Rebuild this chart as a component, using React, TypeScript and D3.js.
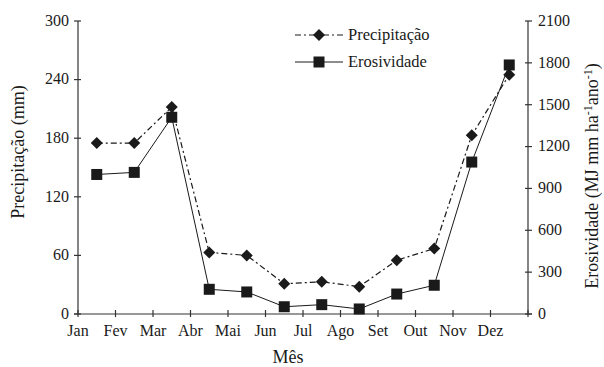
import * as d3 from "d3";

const months = ["Jan", "Fev", "Mar", "Abr", "Mai", "Jun", "Jul", "Ago", "Set", "Out", "Nov", "Dez"];
const precipitacao = [175, 175, 212, 63, 60, 31, 33, 28, 55, 67, 183, 245];
const erosividade = [1000, 1015, 1410, 177, 158, 52, 67, 36, 143, 206, 1089, 1785];
const leftTicks = [0, 60, 120, 180, 240, 300];
const rightTicks = [0, 300, 600, 900, 1200, 1500, 1800, 2100];

const W = 604;
const H = 367;
const m = { left: 78, right: 76, top: 21, bottom: 53 };
const serif = { fontFamily: "Liberation Serif" };
const ink = "#1a1a1a";

export default function App() {
  const x = d3.scaleLinear().domain([0, 12]).range([m.left, W - m.right]);
  const yL = d3.scaleLinear().domain([0, 300]).range([H - m.bottom, m.top]);
  const yR = d3.scaleLinear().domain([0, 2100]).range([H - m.bottom, m.top]);
  const y0 = H - m.bottom;

  const lineP = d3.line<number>().x((_, i) => x(i + 0.5)).y(d => yL(d));
  const lineE = d3.line<number>().x((_, i) => x(i + 0.5)).y(d => yR(d));

  // quadrado girado (losango)
  const diamond = "M0,-6L6,0L0,6L-6,0Z";
  const sq = 11;

  return (
    <svg width={W} height={H} style={{ position: "absolute", left: 0, top: 0, ...serif }}>
      <rect width={W} height={H} fill="#fff" />
      {/* eixos */}
      <g stroke="#333" strokeWidth={1.2}>
        <line x1={m.left} x2={m.left} y1={m.top} y2={y0} />
        <line x1={W - m.right} x2={W - m.right} y1={m.top} y2={y0} />
        <line x1={m.left - 4} x2={W - m.right + 4} y1={y0} y2={y0} />
        {leftTicks.map(t => (
          <line key={"l" + t} x1={m.left - 4} x2={m.left + 3} y1={yL(t)} y2={yL(t)} />
        ))}
        {rightTicks.map(t => (
          <line key={"r" + t} x1={W - m.right - 3} x2={W - m.right + 4} y1={yR(t)} y2={yR(t)} />
        ))}
        {d3.range(13).map(i => (
          <line key={"x" + i} x1={x(i)} x2={x(i)} y1={y0 - 4} y2={y0 + 3} />
        ))}
      </g>
      <g fontSize={16} fill={ink} style={serif}>
        {leftTicks.map(t => (
          <text key={t} x={m.left - 9} y={yL(t)} dy="0.3em" textAnchor="end" style={serif}>{t}</text>
        ))}
        {rightTicks.map(t => (
          <text key={t} x={W - m.right + 10} y={yR(t)} dy="0.3em" textAnchor="start" style={serif}>{t}</text>
        ))}
        {months.map((mo, i) => (
          <text key={mo} x={x(i)} y={y0 + 22} textAnchor="middle" style={serif}>{mo}</text>
        ))}
        <text x={288} y={H - 4} fontSize={18} textAnchor="middle" style={serif}>Mês</text>
        <text transform="translate(24,152) rotate(-90)" fontSize={18} textAnchor="middle" style={serif}>
          Precipitação (mm)
        </text>
        <text transform="translate(598,176) rotate(-90)" fontSize={18} textAnchor="middle" style={serif}>
          Erosividade (MJ mm ha<tspan dy="-6" fontSize={12}>-1</tspan><tspan dy="6">ano</tspan><tspan dy="-6" fontSize={12}>-1</tspan><tspan dy="6">)</tspan>
        </text>
      </g>
      {/* séries */}
      <path d={lineP(precipitacao)!} fill="none" stroke={ink} strokeWidth={1.2} strokeDasharray="6,3,2,3" />
      <path d={lineE(erosividade)!} fill="none" stroke={ink} strokeWidth={1} />
      {precipitacao.map((v, i) => (
        <path key={"p" + i} d={diamond} transform={`translate(${x(i + 0.5)},${yL(v)})`} fill={ink} />
      ))}
      {erosividade.map((v, i) => (
        <rect key={"e" + i} x={x(i + 0.5) - sq / 2} y={yR(v) - sq / 2} width={sq} height={sq} fill={ink} />
      ))}
      {/* legenda */}
      <g fontSize={16.5} fill={ink} style={serif}>
        <line x1={295} x2={343} y1={35} y2={35} stroke={ink} strokeWidth={1.2} strokeDasharray="6,3,2,3" />
        <path d={diamond} transform="translate(319,35)" fill={ink} />
        <text x={348} y={35} dy="0.3em" style={serif}>Precipitação</text>
        <line x1={295} x2={343} y1={62} y2={62} stroke={ink} strokeWidth={1} />
        <rect x={319 - sq / 2} y={62 - sq / 2} width={sq} height={sq} fill={ink} />
        <text x={348} y={62} dy="0.3em" style={serif}>Erosividade</text>
      </g>
    </svg>
  );
}
